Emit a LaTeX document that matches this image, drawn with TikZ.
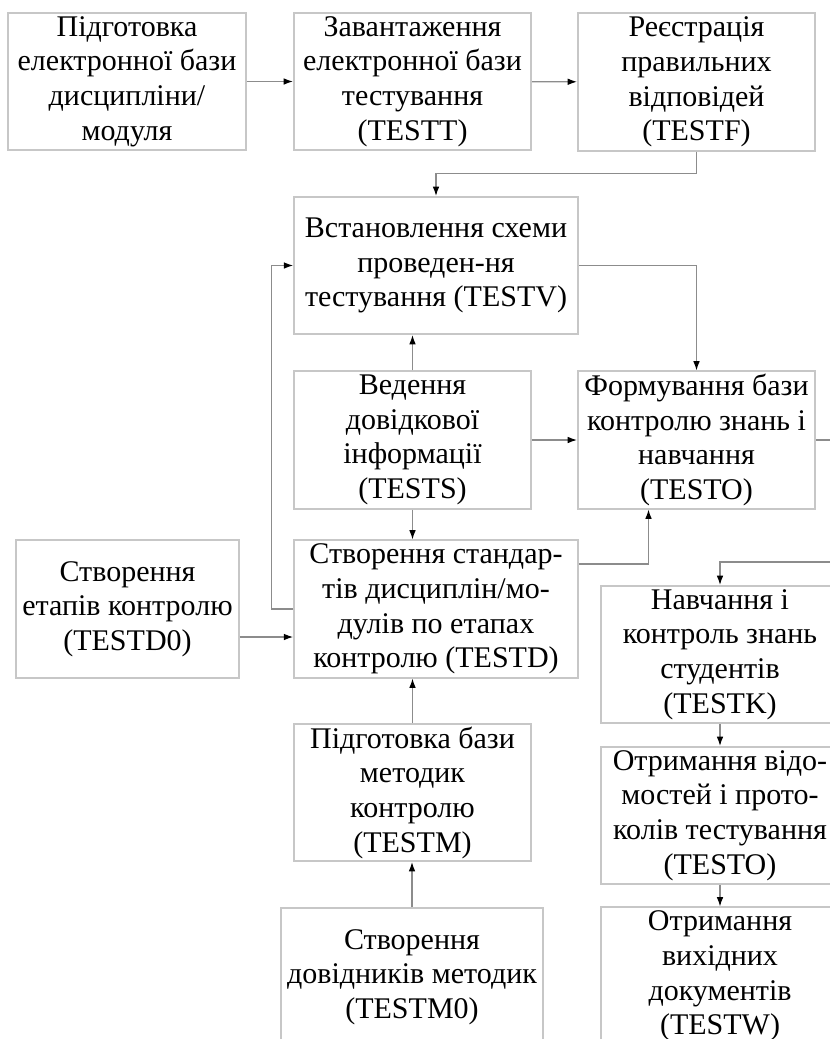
\documentclass[tikz,border=0pt]{standalone}
\usepackage{fontspec}
\setmainfont{Liberation Serif}
\usetikzlibrary{arrows.meta,calc}
\begin{document}
\begin{tikzpicture}[x=0.75pt, y=0.75pt,
  blok/.style={draw=black!22, line width=1.3pt, align=center, inner sep=0pt,
    minimum width=178pt, minimum height=103pt, font=\fontsize{22.5}{26}\selectfont},
  lin/.style={draw=black!45, line width=0.9pt, -{Latex[length=7pt,width=5pt,color=black]}}]
  \useasboundingbox (0,0) rectangle (830,-1039);

  \node[blok] (b1) at (127,-81.5) {Підготовка\\електронної бази\\дисципліни/\\модуля};
  \node[blok] (b2) at (412.5,-81.5) {Завантаження\\електронної бази\\тестування\\(TESTT)};
  \node[blok] (b3) at (696.5,-82) {Реєстрація\\правильних\\відповідей\\(TESTF)};
  \node[blok, minimum width=213pt] (b4) at (436,-265.5) {Встановлення схеми\\проведен-ня\\тестування (TESTV)};
  \node[blok] (b5) at (412.5,-440) {Ведення\\довідкової\\інформації\\(TESTS)};
  \node[blok] (b6) at (696.5,-440) {Формування бази\\контролю знань і\\навчання\\(TESTO)};
  \node[blok, minimum width=213pt] (b7) at (436,-609) {Створення стандар-\\тів дисциплін/мо-\\дулів по етапах\\контролю (TESTD)};
  \node[blok, minimum width=167pt] (b8) at (127.5,-609) {Створення\\етапів контролю\\(TESTD0)};
  \node[blok] (b9) at (720,-654.5) {Навчання і\\контроль знань\\студентів\\(TESTK)};
  \node[blok] (b10) at (412.5,-792.5) {Підготовка бази\\методик\\контролю\\(TESTM)};
  \node[blok, minimum width=196pt] (b11) at (412,-977) {Створення\\довідників методик\\(TESTM0)};
  \node[blok] (b12) at (720,-815.5) {Отримання відо-\\мостей і прото-\\колів тестування\\(TESTO)};
  \node[blok] (b13) at (720,-976) {Отримання\\вихідних\\документів\\(TESTW)};

  \coordinate (p) at ($(b8.east)+(0,-28)$);
  \coordinate (q) at ($(b7.east)+(0,45)$);

  \draw[lin] (b1) -- (b2);
  \draw[lin] (b2) -- (b3);
  \draw[lin] (b3.south) -- ++(0,-22) -| (b4.north);
  \draw[lin] (b4.east) -| (b6.north);
  \draw[lin] (b5.north) -- (b5.north |- b4.south);
  \draw[lin] (b5) -- (b6);
  \draw[lin] (b5.south) -- (b5.south |- b7.north);
  \draw[lin] (q) -| ($(b6.south)+(-48,0)$);
  \draw[lin] (b7.west) -- ++(-22,0) |- (b4.west);
  \draw[lin] (p) -- (p -| b7.west);
  \draw[lin] (b6.east) -- ++(35,0) |- ($(b9.north)+(0,23)$) -- (b9.north);
  \draw[lin] (b10.north) -- (b10.north |- b7.south);
  \draw[lin] (b11.north) -- (b11.north |- b10.south);
  \draw[lin] (b9) -- (b12);
  \draw[lin] (b12) -- (b13);
\end{tikzpicture}
\end{document}
